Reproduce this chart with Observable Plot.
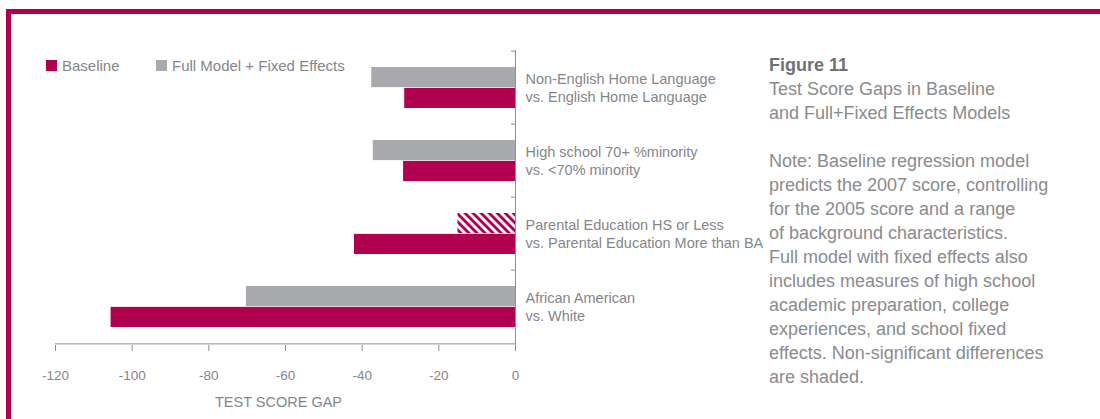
<!DOCTYPE html>
<html>
<head>
<meta charset="utf-8">
<script src="https://cdn.jsdelivr.net/npm/d3@7"></script>
<script src="https://cdn.jsdelivr.net/npm/@observablehq/plot@0.6"></script>
<style>
  html, body { margin: 0; padding: 0; background: #fff; }
  #wrap { position: relative; width: 1100px; height: 419px; overflow: hidden; background: #fff;
          font-family: 'Liberation Sans', Arial, Helvetica, sans-serif; }
  #chart { position: absolute; left: 0; top: 0; }
  #frame { position: absolute; left: 6px; top: 9px; right: -10px; bottom: -10px;
           border-top: 5px solid #B0004F; border-left: 5px solid #B0004F; pointer-events: none; }
  .sw { position: absolute; width: 11px; height: 11px; top: 59.5px; }
  .lg { position: absolute; top: 57px; font-size: 15px; line-height: 17px; color: #85868a; white-space: nowrap; }
  #note { position: absolute; left: 769px; top: 53px; font-size: 18px; line-height: 24px; color: #8a8b8e; white-space: nowrap; }
  #note b { color: #6f7073; }
</style>
</head>
<body>
<div id="wrap">
  <div id="chart"></div>
  <div id="frame"></div>
  <div id="legend"></div>
  <div id="note"></div>
</div>
<script>
// ---- data ----
const categories = [
  "Non-English Home Language\nvs. English Home Language",
  "High school 70+ %minority\nvs. <70% minority",
  "Parental Education HS or Less\nvs. Parental Education More than BA",
  "African American\nvs. White"
];
const baselineValues = [-28.9, -29.2, -42.0, -105.5];
const fullModelValues = [-37.5, -37.1, -15.0, -70.2];
const fullModelSignificant = [true, true, false, true];
const seriesNames = ["Baseline", "Full Model + Fixed Effects"];
const xTicks = [-120, -100, -80, -60, -40, -20, 0];
const xLabel = "TEST SCORE GAP";
const titleLines = ["Figure 11", "Test Score Gaps in Baseline", "and Full+Fixed Effects Models"];
const noteLines = [
  "Note: Baseline regression model",
  "predicts the 2007 score, controlling",
  "for the 2005 score and a range",
  "of background characteristics.",
  "Full model with fixed effects also",
  "includes measures of high school",
  "academic preparation, college",
  "experiences, and school fixed",
  "effects. Non-significant differences",
  "are shaded."
];

// ---- styles ----
const MAGENTA = "#B0004F";
const GRAY = "#A8A9AC";
const TEXT = "#85868a";
const AXIS = "#8e8f92";
const FONT = "'Liberation Sans', Arial, Helvetica, sans-serif";

const rows = categories.map((c, i) => ({
  category: c,
  baseline: baselineValues[i],
  full: fullModelValues[i],
  sig: fullModelSignificant[i]
}));

const W = 1100, H = 419;
const mt = 50, mb = 74, ml = 55, mr = W - 515;
const pInner = 0.434, pOuter = 0.217;
const step = (H - mt - mb) / categories.length;
const half = step * (1 - pInner) / 2;
const frameW = W - ml - mr;

const chart = Plot.plot({
  width: W,
  height: H,
  marginTop: mt,
  marginBottom: mb,
  marginLeft: ml,
  marginRight: mr,
  style: {background: "transparent", fontFamily: FONT, fontSize: "13px", color: TEXT, overflow: "visible"},
  x: {domain: [xTicks[0], xTicks[xTicks.length - 1]], axis: null},
  y: {domain: categories, paddingInner: pInner, paddingOuter: pOuter, axis: null},
  marks: [
    Plot.barX(rows.filter(d => d.sig), {y: "category", x: "full", fill: GRAY, insetBottom: half}),
    Plot.barX(rows.filter(d => !d.sig), {y: "category", x: "full", fill: "url(#hatch)", insetBottom: half}),
    Plot.barX(rows, {y: "category", x: "baseline", fill: MAGENTA, insetTop: half}),
    Plot.ruleX([0], {stroke: AXIS}),
    Plot.ruleY(categories, {y: d => d, dy: -step / 2, insetLeft: frameW - 4, stroke: AXIS}),
    Plot.ruleY([categories[categories.length - 1]], {y: d => d, dy: step / 2, stroke: AXIS}),
    Plot.axisX({ticks: xTicks, tickSize: 6, tickPadding: 18.5, tickFormat: d => String(d),
                stroke: AXIS, fill: TEXT, fontSize: 13.5, label: null}),
    Plot.text(rows, {y: "category", text: "category", frameAnchor: "right", dx: 10, dy: -1,
                     textAnchor: "start", lineAnchor: "middle", lineHeight: 1.26, fontSize: 14.5, fill: TEXT}),
    Plot.text([xLabel], {text: d => d, frameAnchor: "bottom", dy: 61, dx: -7, fontSize: 14.5, fill: TEXT})
  ]
});

// hatch pattern for non-significant bars
const defs = d3.select(chart).insert("defs", ":first-child");
const pat = defs.append("pattern")
  .attr("id", "hatch")
  .attr("patternUnits", "userSpaceOnUse")
  .attr("width", 5.7).attr("height", 5.7)
  .attr("patternTransform", "rotate(-45)");
pat.append("rect").attr("width", 5.7).attr("height", 5.7).attr("fill", "#fff");
pat.append("rect").attr("width", 2.85).attr("height", 5.7).attr("fill", MAGENTA);

document.getElementById("chart").appendChild(chart);

// legend
const legend = d3.select("#legend");
const legendColors = [MAGENTA, GRAY];
const swatchX = [46, 156];
seriesNames.forEach((name, i) => {
  legend.append("div").attr("class", "sw").style("left", swatchX[i] + "px").style("background", legendColors[i]);
  legend.append("div").attr("class", "lg").style("left", (swatchX[i] + 16) + "px").text(name);
});

// title + note
const note = d3.select("#note");
titleLines.forEach((t, i) => {
  if (i === 0) note.append("b").text(t);
  else note.append("span").text(t);
  note.append("br");
});
note.append("br");
noteLines.forEach(t => { note.append("span").text(t); note.append("br"); });
</script>
</body>
</html>
